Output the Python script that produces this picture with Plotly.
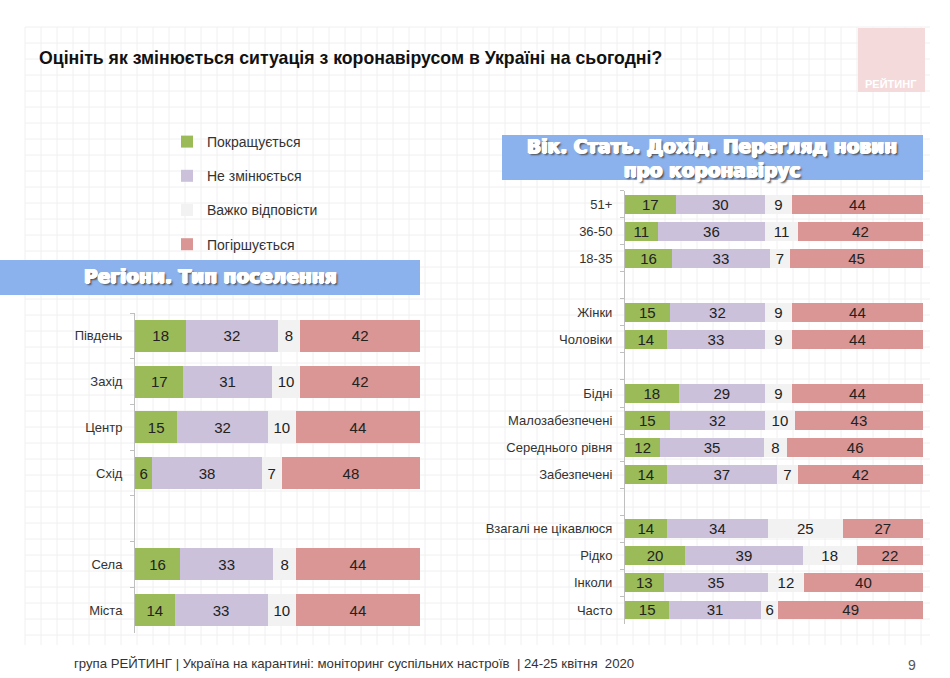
import plotly.graph_objects as go

# ---------------- data ----------------
series_names = ["Покращується", "Не змінюється", "Важко відповісти", "Погіршується"]
series_colors = ["#9BBB59", "#CCC1DA", "#F2F2F2", "#D99694"]

left_categories = ["Південь", "Захід", "Центр", "Схід", " ", "Села", "Міста"]
left_better = [18, 17, 15, 6, None, 16, 14]
left_same = [32, 31, 32, 38, None, 33, 33]
left_hard = [8, 10, 10, 7, None, 8, 10]
left_worse = [42, 42, 44, 48, None, 44, 44]

right_categories = ["51+", "36-50", "18-35", "  ", "Жінки", "Чоловіки", "   ",
                    "Бідні", "Малозабезпечені", "Середнього рівня", "Забезпечені", "    ",
                    "Взагалі не цікавлюся", "Рідко", "Інколи", "Часто"]
right_better = [17, 11, 16, None, 15, 14, None, 18, 15, 12, 14, None, 14, 20, 13, 15]
right_same = [30, 36, 33, None, 32, 33, None, 29, 32, 35, 37, None, 34, 39, 35, 31]
right_hard = [9, 11, 7, None, 9, 9, None, 9, 10, 8, 7, None, 25, 18, 12, 6]
right_worse = [44, 42, 45, None, 44, 44, None, 44, 43, 46, 42, None, 27, 22, 40, 49]

title_text = "Оцініть як змінюється ситуація з коронавірусом в Україні на сьогодні?"
left_header = "Регіони. Тип поселення"
right_header = "Вік. Стать. Дохід. Перегляд новин<br>про коронавірус"
footer_text = "група РЕЙТИНГ | Україна на карантині: моніторинг суспільних настроїв  | 24-25 квітня  2020"
page_number = "9"

W, H = 950, 678

fig = go.Figure()

left_series = [left_better, left_same, left_hard, left_worse]
right_series = [right_better, right_same, right_hard, right_worse]

bar_text_font = dict(size=15, color="#222222", family="Liberation Sans, Arial")

for i, name in enumerate(series_names):
    vals = left_series[i]
    fig.add_trace(go.Bar(
        y=left_categories, x=vals, orientation="h", name=name,
        marker=dict(color=series_colors[i], line=dict(width=0)),
        text=["" if v is None else str(v) for v in vals],
        texttemplate="%{text}", textposition="inside", insidetextanchor="middle",
        textangle=0, constraintext="none", textfont=bar_text_font,
        legendgroup=name, showlegend=True, hoverinfo="skip",
        xaxis="x", yaxis="y",
    ))
for i, name in enumerate(series_names):
    vals = right_series[i]
    fig.add_trace(go.Bar(
        y=right_categories, x=vals, orientation="h", name=name,
        marker=dict(color=series_colors[i], line=dict(width=0)),
        text=["" if v is None else str(v) for v in vals],
        texttemplate="%{text}", textposition="inside", insidetextanchor="middle",
        textangle=0, constraintext="none", textfont=bar_text_font,
        legendgroup=name, showlegend=False, hoverinfo="skip",
        xaxis="x2", yaxis="y2",
    ))

axis_common_x = dict(range=[0, 100], showgrid=False, zeroline=False,
                     showticklabels=False, showline=False, fixedrange=True)
axis_common_y = dict(type="category", showgrid=False, zeroline=False,
                     showline=True, linecolor="#BFBFBF", linewidth=1,
                     ticks="outside", tickson="boundaries", ticklen=4,
                     tickcolor="#BFBFBF", ticklabelstandoff=9,
                     tickfont=dict(size=13, color="#333333", family="Liberation Sans, Arial"),
                     categoryorder="array", fixedrange=True)

# background graph-paper grid (decoration)
shapes = []
gx0, gx1, gy0, gy1 = 25, 930, 27, 645
step = 16
x = gx0
while x <= gx1:
    shapes.append(dict(type="line", xref="paper", yref="paper", layer="below",
                       x0=x / W, x1=x / W, y0=1 - gy0 / H, y1=1 - gy1 / H,
                       line=dict(color="#F0F0F0", width=1)))
    x += step
y = gy0
while y <= gy1:
    shapes.append(dict(type="line", xref="paper", yref="paper", layer="below",
                       x0=gx0 / W, x1=gx1 / W, y0=1 - y / H, y1=1 - y / H,
                       line=dict(color="#F0F0F0", width=1)))
    y += step

# header boxes
shapes.append(dict(type="rect", xref="paper", yref="paper", layer="below",
                   x0=0, x1=420 / W, y0=1 - 295 / H, y1=1 - 260 / H,
                   fillcolor="#8CB2EE", line=dict(width=0)))
shapes.append(dict(type="rect", xref="paper", yref="paper", layer="below",
                   x0=502 / W, x1=923 / W, y0=1 - 180 / H, y1=1 - 135 / H,
                   fillcolor="#8CB2EE", line=dict(width=0)))
# logo square
shapes.append(dict(type="rect", xref="paper", yref="paper", layer="below",
                   x0=858 / W, x1=925 / W, y0=1 - 92 / H, y1=1 - 28 / H,
                   fillcolor="#F4DADA", line=dict(width=0)))

header_font = dict(size=18.6, color="white", family="DejaVu Sans, Arial",
                   weight="bold",
                   shadow="1px 0 0 #fff, -1px 0 0 #fff, 0 0.7px 0 #fff, 0 -0.5px 0 #fff, 2px 2px 2px #4a4a4a")

annotations = [
    dict(text=title_text, xref="paper", yref="paper", x=37 / W, y=1 - 58 / H,
         xanchor="left", yanchor="middle", showarrow=False,
         font=dict(size=17.7, color="#111111", family="Liberation Sans, Arial", weight="bold")),
    dict(text=left_header, xref="paper", yref="paper", x=210 / W, y=1 - 277 / H,
         xanchor="center", yanchor="middle", showarrow=False, font=header_font),
    dict(text=right_header, xref="paper", yref="paper", x=712 / W, y=1 - 158 / H,
         xanchor="center", yanchor="middle", showarrow=False, font=header_font),
    dict(text="РЕЙТИНГ", xref="paper", yref="paper", x=891 / W, y=1 - 84 / H,
         xanchor="center", yanchor="middle", showarrow=False,
         font=dict(size=11, color="white", family="Liberation Sans Narrow, Liberation Sans", weight="bold")),
    dict(text=footer_text, xref="paper", yref="paper", x=72 / W, y=1 - 663 / H,
         xanchor="left", yanchor="middle", showarrow=False,
         font=dict(size=13.2, color="#333333", family="Liberation Sans Narrow, Liberation Sans")),
    dict(text=page_number, xref="paper", yref="paper", x=912 / W, y=1 - 665 / H,
         xanchor="center", yanchor="middle", showarrow=False,
         font=dict(size=14, color="#555555", family="Liberation Sans Narrow, Liberation Sans")),
]

fig.update_layout(
    width=W, height=H,
    margin=dict(l=0, r=0, t=0, b=0),
    paper_bgcolor="white", plot_bgcolor="rgba(0,0,0,0)",
    barmode="stack", barnorm="percent", bargap=0.3,
    xaxis=dict(domain=[135 / W, 420 / W], anchor="y", **axis_common_x),
    yaxis=dict(domain=[1 - 633 / H, 1 - 313 / H], anchor="x",
               categoryarray=left_categories,
               range=[len(left_categories) - 0.5, -0.5], **axis_common_y),
    xaxis2=dict(domain=[625 / W, 923 / W], anchor="y2", **axis_common_x),
    yaxis2=dict(domain=[1 - 623.5 / H, 1 - 190.5 / H], anchor="x2",
                categoryarray=right_categories,
                range=[len(right_categories) - 0.5, -0.5], **axis_common_y),
    showlegend=True,
    legend=dict(x=167 / W, y=1 - 126 / H, xanchor="left", yanchor="top",
                orientation="v", traceorder="grouped", tracegroupgap=13,
                bgcolor="rgba(0,0,0,0)",
                font=dict(size=14, color="#333333", family="Liberation Sans, Arial")),
    shapes=shapes,
    annotations=annotations,
)

fig.write_html("out.html", config={"displayModeBar": False},
               post_script="document.body.style.margin='0';document.body.style.overflow='hidden';")
